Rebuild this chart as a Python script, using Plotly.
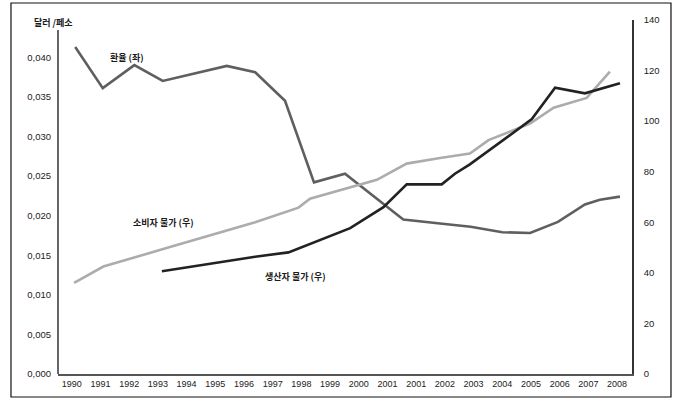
import plotly.graph_objects as go

# x-axis category labels (note the duplicated 2001 in the original)
year_labels = ["1990", "1991", "1992", "1993", "1994", "1995", "1996", "1997", "1998", "1999",
               "2000", "2001", "2001", "2002", "2003", "2004", "2005", "2006", "2007", "2008"]

# Exchange rate (left axis, dollars per peso) — positions on the year index scale
fx_x = [0.12, 1.08, 2.18, 3.17, 5.40, 6.39, 7.43, 8.44, 9.52, 11.55, 12.83, 13.9, 15.0, 15.97, 16.94, 17.88, 18.4, 19.1]
fx_y = [0.0413, 0.0361, 0.0390, 0.0370, 0.0389, 0.0381, 0.0345, 0.0242, 0.0253, 0.0195, 0.0190, 0.0186, 0.0179, 0.0178, 0.0192, 0.0214, 0.0220, 0.0224]

# Consumer prices (right axis)
cpi_x = [0.08, 1.10, 3.60, 6.39, 7.90, 8.30, 10.63, 11.67, 12.83, 13.87, 14.52, 15.98, 16.79, 17.94, 18.75]
cpi_y = [36.0, 42.5, 50.8, 60.0, 65.8, 69.3, 76.8, 83.2, 85.4, 87.2, 92.5, 99.1, 105.3, 109.2, 119.6]

# Producer prices (right axis)
ppi_x = [3.14, 6.39, 7.55, 9.70, 10.86, 11.67, 12.89, 13.35, 13.87, 16.03, 16.84, 17.88, 19.1]
ppi_y = [40.6, 46.4, 48.1, 57.7, 66.0, 75.0, 75.0, 79.2, 82.9, 100.8, 113.2, 111.0, 115.0]

left_ticks = [0, 0.005, 0.010, 0.015, 0.020, 0.025, 0.030, 0.035, 0.040]
left_ticktext = ["0,000", "0,005", "0,010", "0,015", "0,020", "0,025", "0,030", "0,035", "0,040"]
right_ticks = [0, 20, 40, 60, 80, 100, 120, 140]

FONT = "Liberation Sans, Arial, Noto Sans CJK KR"
KFONT = "Noto Sans CJK KR, Liberation Sans"

fig = go.Figure()
fig.add_trace(go.Scatter(x=fx_x, y=fx_y, mode="lines", line=dict(color="#5f5f5f", width=2.6), yaxis="y"))
fig.add_trace(go.Scatter(x=cpi_x, y=cpi_y, mode="lines", line=dict(color="#acacac", width=2.6), yaxis="y2"))
fig.add_trace(go.Scatter(x=ppi_x, y=ppi_y, mode="lines", line=dict(color="#222222", width=2.6), yaxis="y2"))

kfont = dict(family=KFONT, size=9, color="#1a1a1a", weight="bold")

fig.update_layout(
    width=690, height=404,
    margin=dict(l=58, r=58, t=20, b=30),
    paper_bgcolor="white", plot_bgcolor="white",
    showlegend=False,
    font=dict(family=FONT, size=9, color="#222222"),
    xaxis=dict(range=[-0.48, 19.52], tickmode="array", tickvals=list(range(len(year_labels))),
               ticktext=year_labels, showgrid=False, zeroline=False, showline=True,
               linecolor="#555555", linewidth=1.5, ticks="", tickfont=dict(size=9)),
    yaxis=dict(range=[0, 0.0447], tickmode="array", tickvals=left_ticks, ticktext=left_ticktext,
               showgrid=False, zeroline=False, showline=False, ticks="", ticklabelstandoff=6,
               tickfont=dict(size=9.5)),
    yaxis2=dict(range=[0, 140], overlaying="y", side="right", tickmode="array", tickvals=right_ticks,
                showgrid=False, zeroline=False, showline=True, linecolor="#333333", linewidth=1.5,
                ticks="", ticklabelstandoff=8, tickfont=dict(size=9.5)),
    shapes=[
        dict(type="line", xref="paper", yref="paper", x0=0, x1=0, y0=0, y1=0.972,
             line=dict(color="#333333", width=1.5)),
        dict(type="rect", xref="paper", yref="paper", x0=-0.0819, x1=1.0679, y0=-0.065, y1=1.048,
             line=dict(color="#111111", width=1.2)),
    ],
    annotations=[
        dict(text="달러 /페소", xref="paper", yref="paper", x=-0.008, y=(374 - 22.5) / 354,
             xanchor="center", yanchor="middle", showarrow=False, font=kfont),
        dict(text="환율 (좌)", x=(127 - 71.7) / 28.7, y=(374 - 57) / 354 * 0.0447, xref="x", yref="y",
             xanchor="center", yanchor="middle", showarrow=False, font=kfont),
        dict(text="소비자 물가 (우)", x=(163 - 71.7) / 28.7, y=(374 - 222) / 354 * 0.0447, xref="x", yref="y",
             xanchor="center", yanchor="middle", showarrow=False, font=kfont),
        dict(text="생산자 물가 (우)", x=(295 - 71.7) / 28.7, y=(374 - 276) / 354 * 0.0447, xref="x", yref="y",
             xanchor="center", yanchor="middle", showarrow=False, font=kfont),
    ],
)

fig.write_html("out.html")
